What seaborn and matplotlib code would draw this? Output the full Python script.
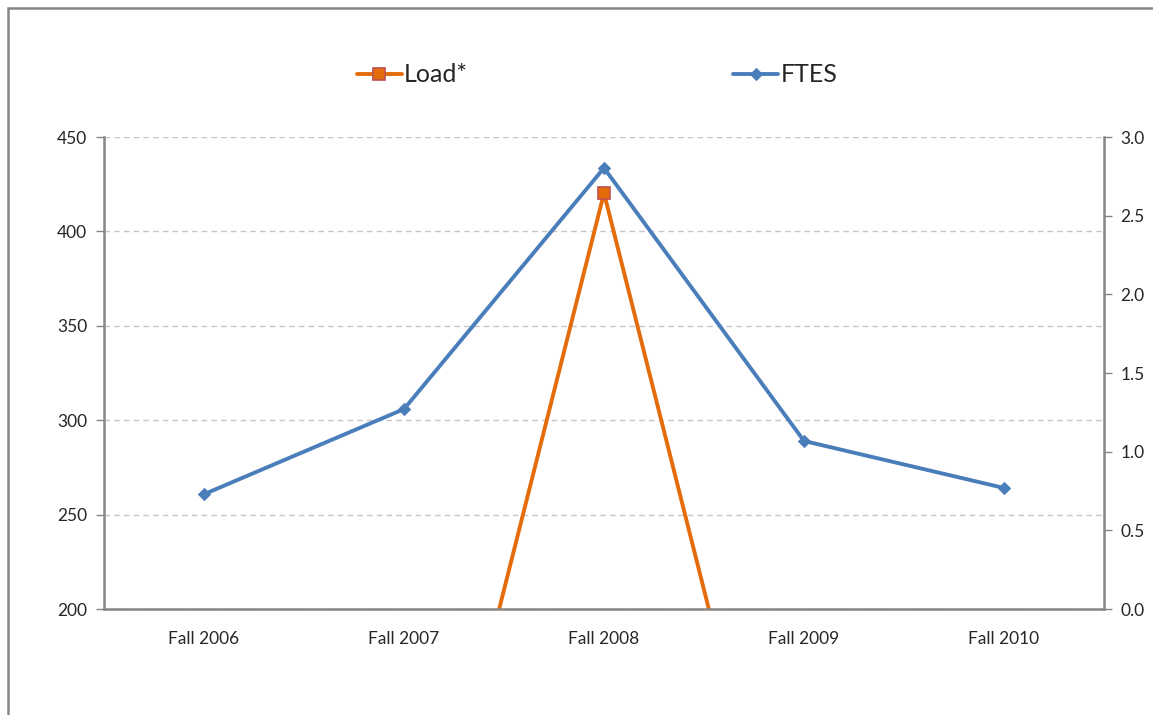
import matplotlib
matplotlib.use("Agg")
import matplotlib.pyplot as plt
import seaborn as sns
import pandas as pd
import numpy as np
from matplotlib.patches import Rectangle

terms = ["Fall 2006", "Fall 2007", "Fall 2008", "Fall 2009", "Fall 2010"]
ftes = [260.8, 305.9, 433.6, 289.0, 264.1]
load = [0.0, 0.0, 420.3, 0.0, 0.0]
right_ticks = [0.0, 0.5, 1.0, 1.5, 2.0, 2.5, 3.0]

sns.set_style("white")
plt.rcParams['font.family'] = ['Lato', 'DejaVu Sans']

blue = "#4A7EBB"
orange = "#E46C0A"
axis_grey = "#868686"

df = pd.DataFrame({"pos": np.arange(len(terms)), "term": terms,
                   "FTES": ftes, "Load*": load})

fig = plt.figure(figsize=(11.53, 7.15), dpi=100)
ax = fig.add_axes([104 / 1153, 1 - 609 / 715, 1000 / 1153, 472 / 715])

sns.lineplot(data=df, x="pos", y="Load*", ax=ax, color=orange, linewidth=2.8,
             marker="s", markersize=8, markerfacecolor=orange,
             markeredgecolor="#C0504D", markeredgewidth=1.2, label="Load*", sort=False)
sns.lineplot(data=df, x="pos", y="FTES", ax=ax, color=blue, linewidth=2.8,
             marker="D", markersize=6.5, markerfacecolor=blue,
             markeredgecolor=blue, label="FTES", sort=False)

ax.set_xlim(-0.5, len(terms) - 0.5)
ax.set_ylim(200, 450)
ax.set_yticks(range(200, 451, 50))
ax.set_xticks(df["pos"])
ax.set_xticklabels(terms, fontsize=12.5)
ax.set_xticks(np.arange(-0.5, len(terms), 1.0), minor=True)
ax.tick_params(axis="x", which="major", length=0, pad=16)
ax.tick_params(axis="x", which="minor", length=6, width=1, color=axis_grey, direction="inout")
ax.tick_params(axis="y", length=6, width=1, color=axis_grey, labelsize=12.5, pad=6)
ax.set_xlabel("")
ax.set_ylabel("")

ax.yaxis.grid(True, linestyle=(0, (4, 3)), color="#C6C6C6", linewidth=1)
ax.xaxis.grid(False)
for side in ["top", "right"]:
    ax.spines[side].set_visible(False)
for side in ["left", "bottom"]:
    ax.spines[side].set_color(axis_grey)
    ax.spines[side].set_linewidth(1.8)

ax2 = ax.twinx()
ax2.set_ylim(0, 3)
ax2.set_yticks(right_ticks)
ax2.set_yticklabels([f"{t:.1f}" for t in right_ticks], fontsize=12.5)
ax2.tick_params(axis="y", length=6, width=1, color=axis_grey, pad=6)
for side in ["top", "left", "bottom"]:
    ax2.spines[side].set_visible(False)
ax2.spines["right"].set_color(axis_grey)
ax2.spines["right"].set_linewidth(1.8)

handles, labels = ax.get_legend_handles_labels()
ax.get_legend().remove()
fig.legend(handles, labels, loc="center", bbox_to_anchor=(597 / 1153, 1 - 75 / 715),
           ncol=2, frameon=False, fontsize=18, handlelength=1.8, handletextpad=0.1,
           columnspacing=10.6)

# outer chart border
fig.patches.append(Rectangle((8 / 1153, -0.1), 1.2, 1 - 8 / 715 + 0.1,
                             transform=fig.transFigure, fill=False,
                             edgecolor=axis_grey, linewidth=1.8))

fig.savefig("out.png", dpi=100)
